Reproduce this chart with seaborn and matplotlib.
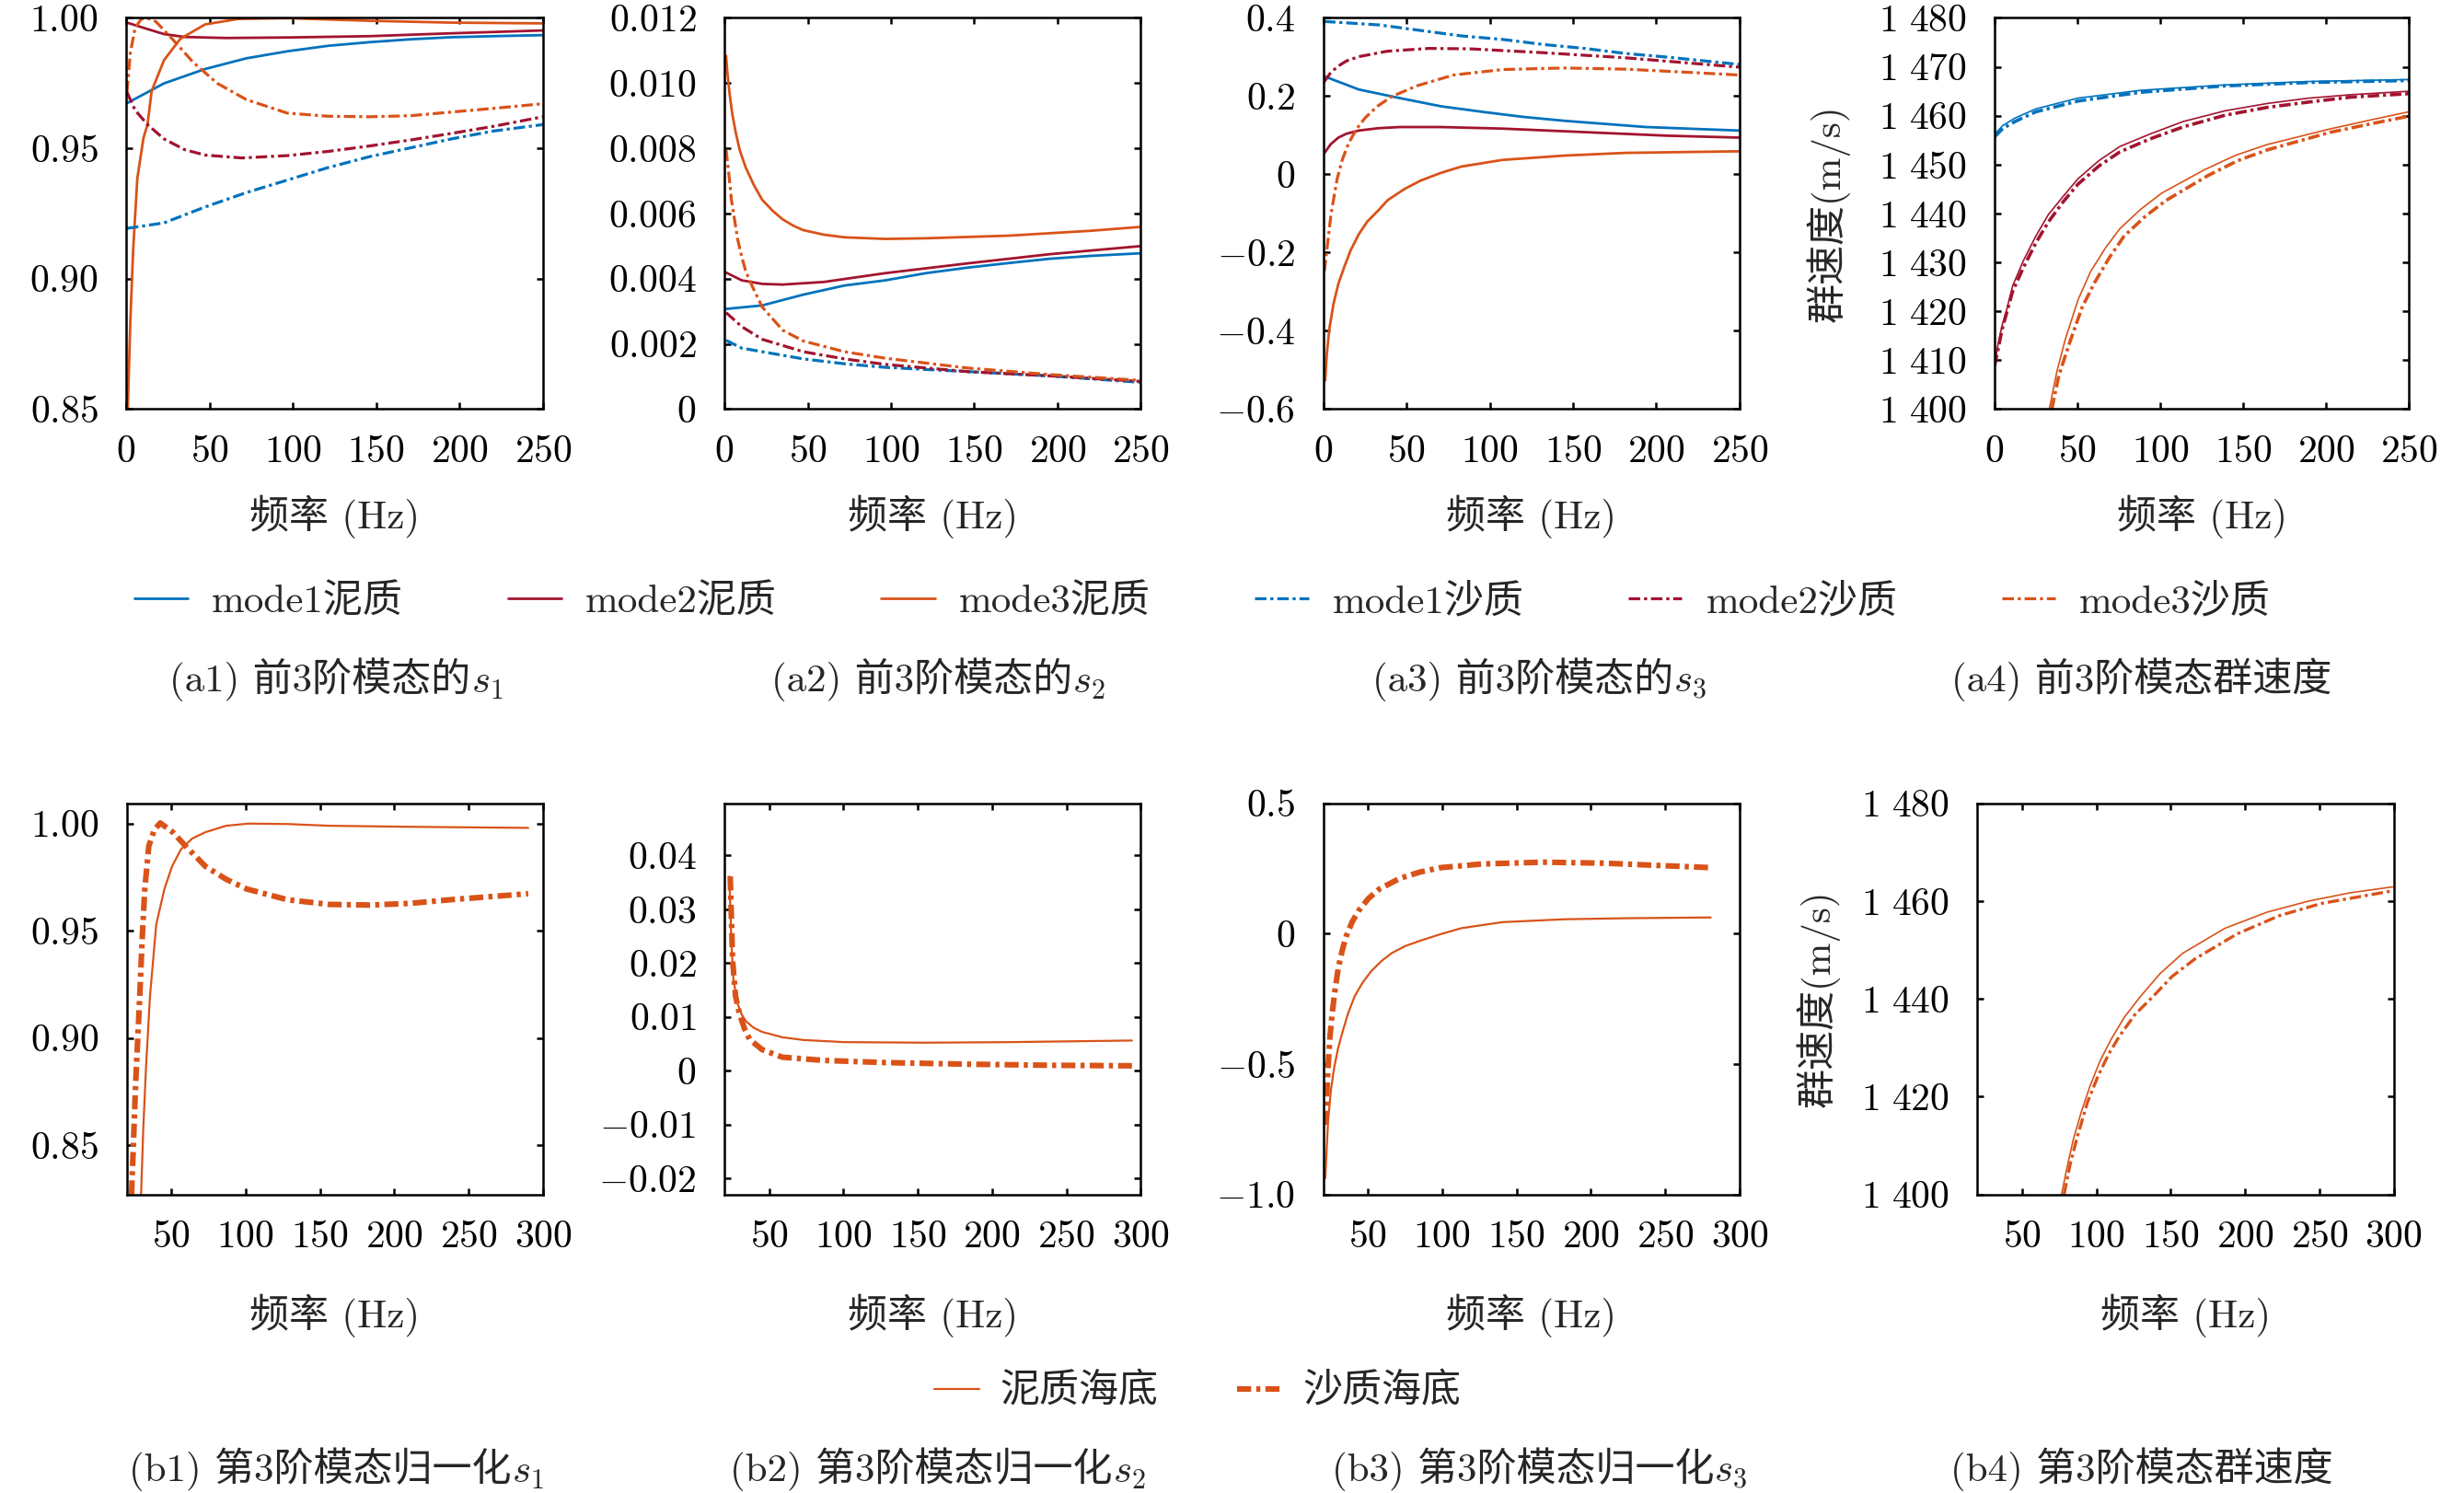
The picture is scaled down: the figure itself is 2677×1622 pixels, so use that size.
import matplotlib.pyplot as plt
import seaborn as sns

sns.set_style('ticks')
plt.rcParams['font.family'] = ['cmr10', 'Noto Sans CJK SC']
plt.rcParams['mathtext.fontset'] = 'cm'
plt.rcParams['axes.formatter.use_mathtext'] = True
plt.rcParams['lines.scale_dashes'] = False
plt.rcParams['axes.linewidth'] = 0.9
plt.rcParams['axes.edgecolor'] = 'black'

BLUE, RED, ORANGE = '#0072BD', '#A2142F', '#D95319'
DASHDOT = (0, (4.5, 1.5, 1.2, 1.5))
DASHDOT_B = (0, (5.5, 2.0, 1.6, 2.0))

# ---------------- (a1) s1, first 3 modes ----------------
s1_mud1_f = [0.5, 22.7, 47.3, 72, 96.6, 121, 146, 170.6, 195, 220, 250]
s1_mud1 = [0.9673, 0.9749, 0.9804, 0.9845, 0.9872, 0.9893, 0.9907, 0.9918, 0.9926, 0.9930, 0.9934]
s1_mud2_f = [0.5, 10.4, 22.7, 35, 59.7, 96.6, 146, 195, 250]
s1_mud2 = [0.9982, 0.9962, 0.9938, 0.9927, 0.9923, 0.9925, 0.9930, 0.9941, 0.9952]
s1_mud3_f = [1, 2.5, 4.2, 6.7, 10.4, 12.8, 15.3, 22.7, 32.5, 47.3, 67, 96.6, 146, 195, 250]
s1_mud3 = [0.8507, 0.8836, 0.9111, 0.9385, 0.9540, 0.9591, 0.9720, 0.9838, 0.9920, 0.9975, 0.9996, 0.9999, 0.9989, 0.9982, 0.9979]
s1_sand1_f = [0.5, 22.7, 47.3, 72, 96.6, 121, 146, 170.6, 195, 220, 250]
s1_sand1 = [0.9193, 0.9214, 0.9275, 0.9330, 0.9378, 0.9426, 0.9468, 0.9502, 0.9536, 0.9566, 0.9591]
s1_sand2_f = [0.5, 5.4, 12.8, 22.7, 35, 47.3, 69.5, 96.6, 121, 146, 170.6, 195, 220, 250]
s1_sand2 = [0.9715, 0.9646, 0.9591, 0.9536, 0.9495, 0.9474, 0.9463, 0.9472, 0.9488, 0.9509, 0.9532, 0.9557, 0.9584, 0.9621]
s1_sand3_f = [0.5, 2.5, 5.4, 9.1, 12.8, 17.8, 27.6, 40, 54.7, 72, 96.6, 121, 146, 170.6, 195, 220, 250]
s1_sand3 = [0.9715, 0.9866, 0.9962, 0.9996, 0.9999, 0.9986, 0.9920, 0.9831, 0.9749, 0.9687, 0.9635, 0.9623, 0.9621, 0.9625, 0.9639, 0.9653, 0.9671]

# ---------------- (a2) s2 ----------------
s2_mud1_f = [0.5, 22.7, 47.3, 72, 96.6, 121, 146, 170.6, 195, 220, 250]
s2_mud1 = [0.00307, 0.00318, 0.00351, 0.00379, 0.00395, 0.00417, 0.00434, 0.00448, 0.00461, 0.00470, 0.00478]
s2_mud2_f = [0.5, 10.4, 22.7, 35, 59.7, 96.6, 146, 195, 250]
s2_mud2 = [0.00420, 0.00395, 0.00384, 0.00382, 0.00390, 0.00417, 0.00447, 0.00475, 0.00500]
s2_mud3_f = [1, 1.7, 3, 4.7, 6.7, 9.1, 12.8, 17.8, 22.7, 28.8, 35, 41.2, 47.3, 59.7, 72, 96.6, 121, 170.6, 220, 250]
s2_mud3 = [0.01084, 0.01037, 0.00972, 0.00906, 0.00851, 0.00796, 0.00741, 0.00686, 0.00642, 0.00609,
           0.00582, 0.00563, 0.00549, 0.00535, 0.00527, 0.00522, 0.00524, 0.00532, 0.00547, 0.00559]
s2_sand1_f = [1, 10.4, 22.7, 47.3, 72, 96.6, 146, 195, 250]
s2_sand1 = [0.00211, 0.00187, 0.00176, 0.00154, 0.00139, 0.00128, 0.00115, 0.00102, 0.00082]
s2_sand2_f = [1, 10.4, 22.7, 47.3, 72, 96.6, 146, 195, 250]
s2_sand2 = [0.00296, 0.00253, 0.00214, 0.00176, 0.00154, 0.00137, 0.00115, 0.00102, 0.00085]
s2_sand3_f = [1, 2.5, 4.2, 5.9, 7.9, 10.4, 12.8, 16.5, 22.7, 35, 47.3, 72, 96.6, 146, 195, 250]
s2_sand3 = [0.00796, 0.00730, 0.00642, 0.00587, 0.00522, 0.00467, 0.00423, 0.00379, 0.00313,
            0.00242, 0.00209, 0.00176, 0.00156, 0.00126, 0.00106, 0.00088]

# ---------------- (a3) s3 ----------------
s3_mud1_f = [0.5, 21.4, 46, 70.8, 95.4, 120, 144.7, 169.4, 194, 218.7, 250]
s3_mud1 = [0.251, 0.217, 0.195, 0.174, 0.160, 0.147, 0.137, 0.129, 0.121, 0.117, 0.112]
s3_mud2_f = [0.5, 4.5, 9.1, 14, 21.4, 33, 46, 70.8, 107.7, 157, 206, 250]
s3_mud2 = [0.053, 0.077, 0.094, 0.104, 0.112, 0.118, 0.121, 0.121, 0.117, 0.108, 0.099, 0.094]
s3_mud3_f = [1.2, 2.2, 3.7, 6.2, 9.1, 12.8, 16.5, 21.4, 26.4, 33.8, 38.7, 48.6, 58.4, 70.8, 83,
             107.7, 144.7, 181.7, 250]
s3_mud3 = [-0.527, -0.458, -0.395, -0.331, -0.280, -0.235, -0.194, -0.153, -0.121, -0.089, -0.066,
           -0.038, -0.016, 0.004, 0.020, 0.037, 0.048, 0.055, 0.059]
s3_sand1_f = [0.5, 33.8, 58.4, 83, 107.7, 132.4, 157, 181.7, 206, 250]
s3_sand1 = [0.391, 0.382, 0.368, 0.354, 0.345, 0.332, 0.322, 0.309, 0.300, 0.281]
s3_sand2_f = [0.5, 4.5, 9.1, 14, 21.4, 38.7, 63.4, 88, 132.4, 181.7, 250]
s3_sand2 = [0.236, 0.260, 0.277, 0.290, 0.301, 0.315, 0.322, 0.321, 0.311, 0.298, 0.274]
s3_sand3_f = [0.7, 2.2, 4.7, 8.4, 11.6, 15.3, 20.2, 25.1, 32.5, 41.2, 56, 78.2, 107.7, 144.7, 181.7,
              218.7, 250]
s3_sand3 = [-0.248, -0.194, -0.102, -0.011, 0.039, 0.080, 0.117, 0.144, 0.174, 0.199, 0.226, 0.254,
            0.268, 0.272, 0.269, 0.261, 0.254]

# ---------------- (a4) group velocity ----------------
vg_mud1_f = [0, 5, 12.2, 24.9, 50.3, 88.3, 139, 190, 250]
vg_mud1 = [1456.2, 1458.0, 1459.5, 1461.4, 1463.6, 1465.2, 1466.3, 1467.0, 1467.4]
vg_sand1_f = [0, 5, 12.2, 24.9, 50.3, 88.3, 139, 190, 250]
vg_sand1 = [1455.7, 1457.4, 1458.8, 1460.8, 1463.0, 1464.8, 1466.1, 1466.8, 1467.2]
vg_mud2_f = [0, 2.0, 4.6, 7.1, 10.9, 17.3, 24.9, 32.5, 41.4, 50.3, 62.9, 75.6, 93.4, 113.7, 139.1,
             164.5, 189.8, 215.2, 250]
vg_mud2 = [1409.1, 1413.1, 1417.2, 1420.1, 1425.2, 1430.3, 1435.4, 1439.8, 1443.5, 1447.1, 1450.8,
           1453.7, 1456.2, 1458.8, 1461.0, 1462.5, 1463.6, 1464.3, 1465.0]
vg_sand2_f = [0, 4.6, 10.9, 17.3, 24.9, 32.5, 41.4, 50.3, 62.9, 75.6, 93.4, 113.7, 139.1, 164.5,
              189.8, 215.2, 250]
vg_sand2 = [1408.8, 1416.4, 1424.1, 1428.9, 1434.0, 1438.3, 1442.4, 1446.0, 1449.7, 1452.6, 1455.2,
            1457.7, 1460.1, 1461.7, 1462.8, 1463.8, 1464.5]
vg_mud3_f = [33, 37.6, 42.6, 50.3, 57.9, 66.8, 75.6, 88.3, 101, 126.4, 145.4, 164.5, 202.5, 227.9, 250]
vg_mud3 = [1400.0, 1407.7, 1414.2, 1422.3, 1428.1, 1432.9, 1436.9, 1440.9, 1444.2, 1448.9, 1451.9,
           1454.1, 1457.3, 1459.2, 1460.8]
vg_sand3_f = [34.5, 38.8, 45.2, 52.8, 60.4, 69.3, 78.2, 90.9, 103.6, 129, 146.7, 164.5, 202.5, 227.9, 250]
vg_sand3 = [1400.0, 1406.9, 1413.5, 1420.8, 1425.9, 1431.0, 1435.4, 1439.4, 1442.7, 1447.8, 1450.8,
            1453.0, 1456.6, 1458.4, 1459.9]

# ---------------- (b1)-(b4) normalised, mode 3 ----------------
n1_mud_f = [29.7, 31.2, 33, 35.7, 39.9, 45.4, 50.5, 56.5, 64, 73, 87, 102, 128, 156, 211, 290]
n1_mud = [0.827, 0.858, 0.886, 0.9195, 0.953, 0.9695, 0.980, 0.988, 0.993, 0.996, 0.999, 1.000,
          0.9998, 0.999, 0.9985, 0.998]
n1_sand_f = [23.3, 26, 28.8, 30.5, 32.2, 34.9, 38.5, 42.6, 51, 59, 73, 87, 100.7, 128, 156, 183.5,
             211, 238, 266, 290]
n1_sand = [0.827, 0.878, 0.9195, 0.947, 0.9695, 0.9895, 0.997, 1.0003, 0.996, 0.990, 0.980, 0.974,
           0.9695, 0.9645, 0.9623, 0.962, 0.9628, 0.9645, 0.966, 0.9673]
n2_mud_f = [23.3, 24.7, 26, 28.8, 31.5, 34.4, 39.5, 45.4, 59, 73, 100.7, 156, 211, 294]
n2_mud = [0.0361, 0.0238, 0.0171, 0.0125, 0.0105, 0.0092, 0.0080, 0.0072, 0.0062, 0.0057, 0.0053,
          0.0052, 0.0053, 0.0056]
n2_sand_f = [23.9, 25.5, 27.5, 30.2, 33.5, 37, 45.4, 59, 87, 128, 183.5, 238.8, 294]
n2_sand = [0.0361, 0.0205, 0.0138, 0.0105, 0.0078, 0.0058, 0.0039, 0.0025, 0.0019, 0.0015, 0.0012,
           0.0010, 0.0009]
n3_mud_f = [21.4, 23.3, 25.2, 27.4, 30, 33, 36.8, 41.2, 46.5, 52.3, 59, 66, 75, 85.4, 99, 113, 140.5,
            182, 223, 280.6]
n3_mud = [-0.938, -0.719, -0.600, -0.514, -0.440, -0.377, -0.305, -0.240, -0.188, -0.144, -0.106,
          -0.075, -0.048, -0.027, -0.002, 0.021, 0.044, 0.055, 0.059, 0.062]
n3_sand_f = [21.4, 23.3, 24.5, 26, 28, 30.2, 33, 35.7, 39.5, 44, 50.5, 57.8, 71.6, 85, 99, 126.7, 168,
             209.5, 251, 280.6]
n3_sand = [-0.733, -0.514, -0.400, -0.308, -0.215, -0.130, -0.060, -0.007, 0.045, 0.089, 0.135,
           0.171, 0.212, 0.236, 0.253, 0.267, 0.274, 0.270, 0.260, 0.253]
n4_mud_f = [76.6, 80.5, 84.5, 90, 95.8, 102.5, 109.9, 119, 129.7, 143, 158, 186.3, 214.6, 242.9, 271, 299.4]
n4_mud = [1400.0, 1405.8, 1411.2, 1417.0, 1422.2, 1427.3, 1431.7, 1436.3, 1440.5, 1445.2, 1449.3,
          1454.4, 1457.7, 1460.0, 1461.7, 1462.9]
n4_sand_f = [78.3, 82.5, 87.3, 94, 101.4, 108.5, 115.6, 126, 138.2, 151, 166.5, 194.8, 223, 251.3, 299.4]
n4_sand = [1400.0, 1406.3, 1411.9, 1418.8, 1424.4, 1428.8, 1432.4, 1436.8, 1440.5, 1444.6, 1448.2,
           1453.3, 1457.0, 1459.5, 1462.1]

# ---------------- ticks, labels ----------------
xticks_a = [0, 50, 100, 150, 200, 250]
xticks_b = [50, 100, 150, 200, 250, 300]
a1_yticks = [0.85, 0.90, 0.95, 1.00]
a1_ylabels = ['0.85', '0.90', '0.95', '1.00']
a2_yticks = [0, 0.002, 0.004, 0.006, 0.008, 0.010, 0.012]
a2_ylabels = ['0', '0.002', '0.004', '0.006', '0.008', '0.010', '0.012']
a3_yticks = [-0.6, -0.4, -0.2, 0, 0.2, 0.4]
a3_ylabels = ['−0.6', '−0.4', '−0.2', '0', '0.2', '0.4']
a4_yticks = [1400, 1410, 1420, 1430, 1440, 1450, 1460, 1470, 1480]
a4_ylabels = ['1 400', '1 410', '1 420', '1 430', '1 440', '1 450', '1 460', '1 470', '1 480']
b1_yticks = [0.85, 0.90, 0.95, 1.00]
b1_ylabels = ['0.85', '0.90', '0.95', '1.00']
b2_yticks = [-0.02, -0.01, 0, 0.01, 0.02, 0.03, 0.04]
b2_ylabels = ['−0.02', '−0.01', '0', '0.01', '0.02', '0.03', '0.04']
b3_yticks = [-1.0, -0.5, 0, 0.5]
b3_ylabels = ['−1.0', '−0.5', '0', '0.5']
b4_yticks = [1400, 1420, 1440, 1460, 1480]
b4_ylabels = ['1 400', '1 420', '1 440', '1 460', '1 480']

legend_a = ['mode1泥质', 'mode2泥质', 'mode3泥质', 'mode1沙质', 'mode2沙质', 'mode3沙质']
legend_b = ['泥质海底', '沙质海底']
captions_a = [('(a1) 前3阶模态的', '$s_1$'), ('(a2) 前3阶模态的', '$s_2$'),
              ('(a3) 前3阶模态的', '$s_3$'), ('(a4) 前3阶模态群速度', '')]
captions_b = [('(b1) 第3阶模态归一化', '$s_1$'), ('(b2) 第3阶模态归一化', '$s_2$'),
              ('(b3) 第3阶模态归一化', '$s_3$'), ('(b4) 第3阶模态群速度', '')]
xlabel = '频率 (Hz)'
vg_label = '群速度(m/s)'


def tex(s):
    return '$' + s.replace('−', '-').replace(' ', r'\ ') + '$'


def draw(ax, f, v, color, ls, lw, label=None):
    sns.lineplot(x=f, y=v, ax=ax, color=color, linestyle=ls, linewidth=lw,
                 label=label, legend=False, sort=False, estimator=None)


def style(ax, xlim, xt, ylim, yt, ylab, xlab_y):
    ax.set_xlim(xlim)
    ax.set_ylim(ylim)
    ax.set_xticks(xt)
    ax.set_xticklabels([tex(str(t)) for t in xt])
    ax.set_yticks(yt)
    ax.set_yticklabels([tex(s) for s in ylab])
    ax.tick_params(direction='in', top=True, right=True, length=2.6, width=0.9,
                   labelsize=15, colors='black')
    ax.tick_params(axis='x', pad=10)
    ax.tick_params(axis='y', pad=11)
    ax.set_xlabel(xlabel, fontsize=15.5)
    ax.xaxis.set_label_coords(0.5, xlab_y)
    ax.set_ylabel('')


fig = plt.figure(figsize=(13.385, 8.11), dpi=200)

h = 0.262
ya, yb = 0.726, 0.200
cols_a = [(0.0512, 0.1692), (0.294, 0.169), (0.537, 0.169), (0.8095, 0.1681)]
cols_b = [(0.0514, 0.169), (0.294, 0.169), (0.537, 0.169), (0.8025, 0.169)]
ax_a = [fig.add_axes([l, ya, w, h]) for l, w in cols_a]
ax_b = [fig.add_axes([l, yb, w, h]) for l, w in cols_b]

lw_s, lw_d = 1.0, 1.15
a_sets = [
    (s1_mud1_f, s1_mud1, s1_mud2_f, s1_mud2, s1_mud3_f, s1_mud3,
     s1_sand1_f, s1_sand1, s1_sand2_f, s1_sand2, s1_sand3_f, s1_sand3),
    (s2_mud1_f, s2_mud1, s2_mud2_f, s2_mud2, s2_mud3_f, s2_mud3,
     s2_sand1_f, s2_sand1, s2_sand2_f, s2_sand2, s2_sand3_f, s2_sand3),
    (s3_mud1_f, s3_mud1, s3_mud2_f, s3_mud2, s3_mud3_f, s3_mud3,
     s3_sand1_f, s3_sand1, s3_sand2_f, s3_sand2, s3_sand3_f, s3_sand3),
    (vg_mud1_f, vg_mud1, vg_mud2_f, vg_mud2, vg_mud3_f, vg_mud3,
     vg_sand1_f, vg_sand1, vg_sand2_f, vg_sand2, vg_sand3_f, vg_sand3),
]
colors = [BLUE, RED, ORANGE]
for k, (ax, data) in enumerate(zip(ax_a, a_sets)):
    ls_, ld_ = (0.6, 1.3) if k == 3 else (lw_s, lw_d)
    for m in range(3):
        draw(ax, data[2 * m], data[2 * m + 1], colors[m], '-', ls_,
             legend_a[m] if k == 0 else None)
    for m in range(3):
        draw(ax, data[6 + 2 * m], data[7 + 2 * m], colors[m], DASHDOT, ld_,
             legend_a[3 + m] if k == 0 else None)

style(ax_a[0], (0, 250), xticks_a, (0.85, 1.00), a1_yticks, a1_ylabels, -0.22)
style(ax_a[1], (0, 250), xticks_a, (0, 0.012), a2_yticks, a2_ylabels, -0.22)
style(ax_a[2], (0, 250), xticks_a, (-0.6, 0.4), a3_yticks, a3_ylabels, -0.22)
style(ax_a[3], (0, 250), xticks_a, (1400, 1480), a4_yticks, a4_ylabels, -0.22)
ax_a[3].set_ylabel(vg_label, fontsize=15.5)
ax_a[3].yaxis.set_label_coords(-0.35, 0.5)

b_sets = [(n1_mud_f, n1_mud, n1_sand_f, n1_sand),
          (n2_mud_f, n2_mud, n2_sand_f, n2_sand),
          (n3_mud_f, n3_mud, n3_sand_f, n3_sand),
          (n4_mud_f, n4_mud, n4_sand_f, n4_sand)]
for k, (ax, (fm, vm, fs, vs)) in enumerate(zip(ax_b, b_sets)):
    thick = 1.2 if k == 3 else 2.2
    draw(ax, fm, vm, ORANGE, '-', 0.6 if k == 3 else 0.8, legend_b[0] if k == 0 else None)
    draw(ax, fs, vs, ORANGE, DASHDOT if k == 3 else DASHDOT_B, thick,
         legend_b[1] if k == 0 else None)

style(ax_b[0], (20, 300), xticks_b, (0.827, 1.0095), b1_yticks, b1_ylabels, -0.255)
style(ax_b[1], (20, 300), xticks_b, (-0.023, 0.0497), b2_yticks, b2_ylabels, -0.255)
style(ax_b[2], (20, 300), xticks_b, (-1.0, 0.5), b3_yticks, b3_ylabels, -0.255)
style(ax_b[3], (20, 300), xticks_b, (1400, 1480), b4_yticks, b4_ylabels, -0.255)
ax_b[3].set_ylabel(vg_label, fontsize=15.5)
ax_b[3].yaxis.set_label_coords(-0.33, 0.5)

# legends
h_a, l_a = ax_a[0].get_legend_handles_labels()
fig.legend(h_a, l_a, ncol=6, loc='center', bbox_to_anchor=(0.488, 0.597),
           frameon=False, fontsize=15.5, handlelength=1.35, handletextpad=0.6,
           columnspacing=2.65)
h_b, l_b = ax_b[0].get_legend_handles_labels()
fig.legend(h_b, l_b, ncol=2, loc='center', bbox_to_anchor=(0.486, 0.068),
           frameon=False, fontsize=15.5, handlelength=1.15, handletextpad=0.5,
           columnspacing=2.0)

# captions
cap_x = [0.137, 0.381, 0.625, 0.869]
for row_y, caps in [(0.545, captions_a), (0.016, captions_b)]:
    for cx, (main, sub) in zip(cap_x, caps):
        shift = 0.007 if sub else 0.0
        t = fig.text(cx - shift, row_y, main, ha='center', va='center', fontsize=15.5)
        if sub:
            ax_a[0].annotate(sub, xy=(1, 0), xycoords=t, ha='left', va='bottom',
                             fontsize=15.5, annotation_clip=False)

fig.savefig('out.png', dpi=200)
